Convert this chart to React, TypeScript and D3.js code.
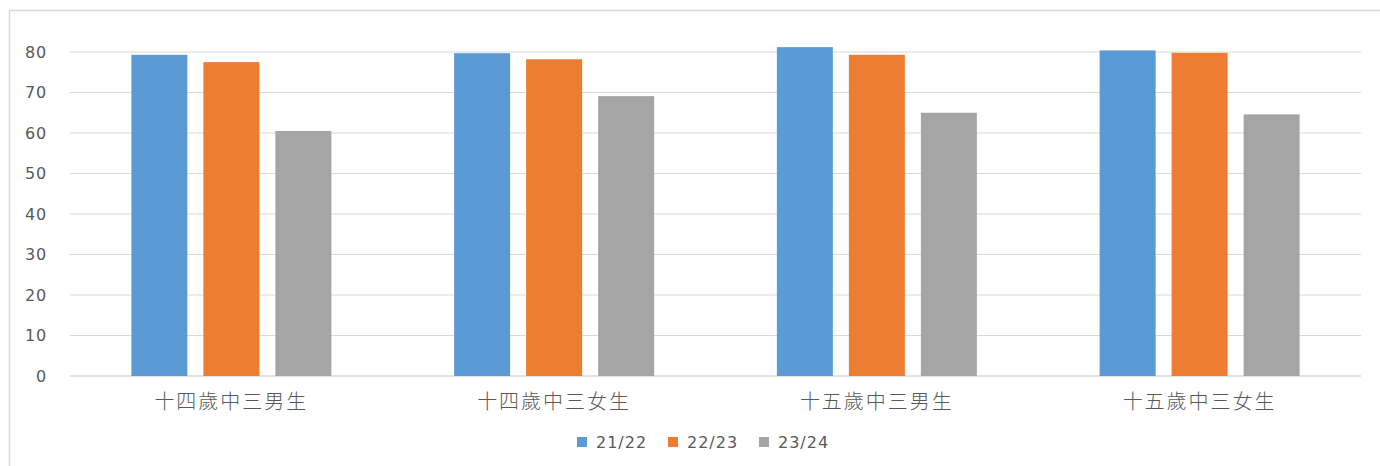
import React from "react";
import * as d3 from "d3";

const categories = ["十四歲中三男生", "十四歲中三女生", "十五歲中三男生", "十五歲中三女生"];
const seriesNames = ["21/22", "22/23", "23/24"];
const series2122 = [79.3, 79.7, 81.2, 80.4];
const series2223 = [77.5, 78.2, 79.3, 79.8];
const series2324 = [60.5, 69.1, 65.0, 64.6];
const yTicks = [0, 10, 20, 30, 40, 50, 60, 70, 80];
const colors = ["#5B9BD5", "#ED7D31", "#A5A5A5"];

const W = 1380;
const H = 466;
const left = 70;
const right = 1361;
const top = 52;
const bottom = 376;
const groupW = 200;

export default function App() {
  const allSeries = [series2122, series2223, series2324];
  const x0 = d3.scaleBand<string>().domain(categories).range([left, right]).paddingInner(0).paddingOuter(0);
  const x1 = d3.scaleBand<string>().domain(seriesNames).range([0, groupW]).paddingInner(16 / 72).paddingOuter(0);
  const y = d3.scaleLinear().domain([0, 80]).range([bottom, top]);
  const font = "'DejaVu Sans', Verdana, sans-serif";

  return (
    <svg width={W} height={H} style={{ position: "absolute", left: 0, top: 0, background: "#fff" }}>
      <rect x={9.5} y={10.5} width={W} height={H} fill="#fff" stroke="#d9d9d9" strokeWidth={1.5} />
      {yTicks.map((t) => (
        <g key={t}>
          <line x1={left} x2={right} y1={y(t)} y2={y(t)} stroke="#d9d9d9" strokeWidth={t === 0 ? 1.5 : 1.2} />
          <text x={47} y={y(t)} dy="0.36em" textAnchor="end" fontSize={16} letterSpacing={0.8} fill="#595959" fontFamily={font}>
            {t}
          </text>
        </g>
      ))}
      {categories.map((c, ci) => {
        const gx = (x0(c) as number) + x0.bandwidth() / 2 - groupW / 2;
        return (
          <g key={c}>
            {allSeries.map((s, si) => (
              <rect
                key={si}
                x={gx + (x1(seriesNames[si]) as number)}
                y={y(s[ci])}
                width={x1.bandwidth()}
                height={y(0) - y(s[ci])}
                fill={colors[si]}
              />
            ))}
            <text
              x={(x0(c) as number) + x0.bandwidth() / 2}
              y={402}
              dy="0.36em"
              textAnchor="middle"
              fontSize={20}
              letterSpacing={2}
              fontWeight={300}
              fill="#595959"
              fontFamily="'Noto Sans CJK TC', 'Noto Sans CJK SC', sans-serif"
            >
              {c}
            </text>
          </g>
        );
      })}
      {seriesNames.map((n, i) => {
        const lx = 577 + i * 91;
        return (
          <g key={n}>
            <rect x={lx} y={437} width={10} height={10} fill={colors[i]} />
            <text x={lx + 19} y={442} dy="0.36em" fontSize={16} letterSpacing={1} fill="#595959" fontFamily={font}>
              {n}
            </text>
          </g>
        );
      })}
    </svg>
  );
}
